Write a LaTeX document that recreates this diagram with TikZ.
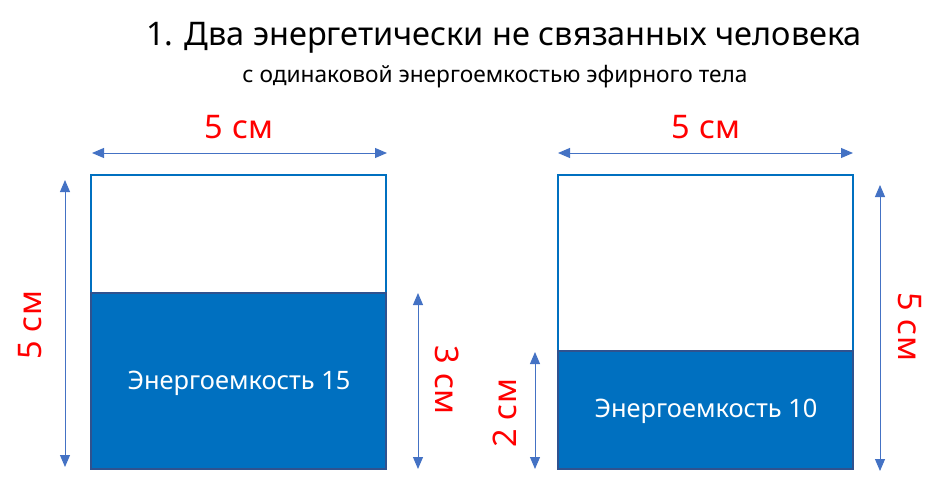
\documentclass[tikz,border=0pt]{standalone}
\usepackage{fontspec}
\setmainfont{Noto Sans}
\usetikzlibrary{arrows.meta}
\definecolor{boxblue}{HTML}{0070C0}
\definecolor{edgeblue}{HTML}{2F528F}
\definecolor{arrowblue}{HTML}{4472C4}
\definecolor{labelred}{HTML}{FF0000}
\tikzset{
  dimarrow/.style={draw=arrowblue, line width=1pt, {Triangle[length=12pt,width=10pt]}-{Triangle[length=12pt,width=10pt]}},
  dimlabel/.style={text=labelred, font=\fontsize{32.5}{38}\selectfont, inner sep=0pt},
  outerbox/.style={draw=boxblue, line width=2pt, fill=white},
  fillbox/.style={draw=edgeblue, line width=2pt, fill=boxblue},
  boxtext/.style={text=white, font=\fontsize{25.4}{30}\selectfont, inner sep=0pt}
}
\begin{document}
\begin{tikzpicture}[x=1pt,y=-1pt]
\useasboundingbox (0,0) rectangle (944,484);
% titles
\node[font=\fontsize{32.5}{38}\selectfont, inner sep=0pt] (title) at (504,38) {1. Два энергетически не связанных человека};
\node[font=\fontsize{22.7}{27}\selectfont, inner sep=0pt] (subtitle) at (495,77) {с одинаковой энергоемкостью эфирного тела};
% left figure
\draw[outerbox] (91,175) rectangle (386,469);
\draw[fillbox] (91,293) rectangle (386,469);
\node[boxtext] (e15) at (239,383) {Энергоемкость 15};
\coordinate (lt1) at (92,153); \coordinate (lt2) at (387,153);
\draw[dimarrow] (lt1) -- (lt2);
\node[dimlabel] (lw) at (239,127) {5 см};
\coordinate (ll1) at (65,180); \coordinate (ll2) at (65,467);
\draw[dimarrow] (ll1) -- (ll2);
\node[dimlabel, rotate=90] (lh) at (30,325) {5 см};
\coordinate (lr1) at (418,293); \coordinate (lr2) at (418,469);
\draw[dimarrow] (lr1) -- (lr2);
\node[dimlabel, rotate=-90] (lf) at (447,380) {3 см};
% right figure
\draw[outerbox] (558,175) rectangle (853,469);
\draw[fillbox] (558,351) rectangle (853,469);
\node[boxtext] (e10) at (706,411) {Энергоемкость 10};
\coordinate (rt1) at (558,153); \coordinate (rt2) at (853,153);
\draw[dimarrow] (rt1) -- (rt2);
\node[dimlabel] (rw) at (706,127) {5 см};
\coordinate (rl1) at (535,352); \coordinate (rl2) at (535,469);
\draw[dimarrow] (rl1) -- (rl2);
\node[dimlabel, rotate=90] (rf) at (505,413) {2 см};
\coordinate (rr1) at (880,185); \coordinate (rr2) at (880,471);
\draw[dimarrow] (rr1) -- (rr2);
\node[dimlabel, rotate=-90] (rh) at (910,327) {5 см};
\end{tikzpicture}
\end{document}
